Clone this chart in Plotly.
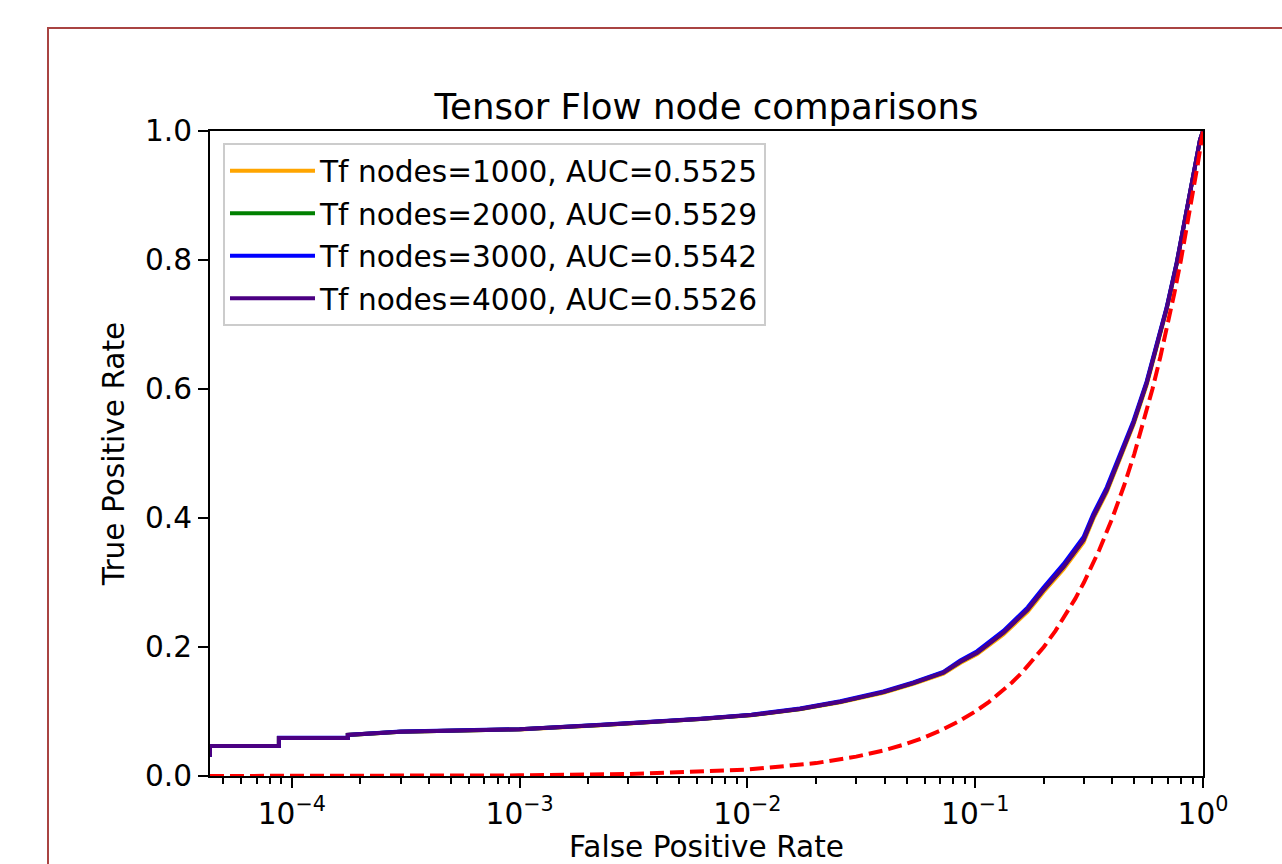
import plotly.graph_objects as go

# ---------------- data ----------------
fpr = [4.37e-5, 4.37e-5, 8.77e-5, 8.77e-5, 1.76e-4, 1.76e-4, 3.0e-4, 1.0e-3,
       2.27e-3, 4.0e-3, 6.2e-3, 1.04e-2, 1.7e-2, 2.56e-2, 3.95e-2, 5.35e-2,
       7.25e-2, 8.6e-2, 0.102, 0.133, 0.170, 0.199, 0.244, 0.299, 0.330,
       0.378, 0.433, 0.495, 0.566, 0.627, 0.693, 0.767, 0.834, 0.907, 0.970, 1.0]

tpr_1000 = [0.030, 0.0465, 0.0465, 0.059, 0.059, 0.0636, 0.0686, 0.0722,
            0.0788, 0.0838, 0.0882, 0.0942, 0.1034, 0.1142, 0.1290, 0.1428,
            0.1585, 0.1752, 0.1892, 0.2195, 0.2550, 0.2850, 0.3205, 0.3625,
            0.3990, 0.4400, 0.4920, 0.5445, 0.6065, 0.6660, 0.7235, 0.7940,
            0.8612, 0.9335, 0.9858, 1.0]
tpr_2000 = [0.030, 0.0465, 0.0465, 0.059, 0.059, 0.0636, 0.0687, 0.0723,
            0.0789, 0.0839, 0.0883, 0.0945, 0.1040, 0.1152, 0.1300, 0.1442,
            0.1605, 0.1772, 0.1912, 0.2225, 0.2585, 0.2885, 0.3245, 0.3665,
            0.4025, 0.4435, 0.4955, 0.5475, 0.6095, 0.6685, 0.7255, 0.7955,
            0.8625, 0.9342, 0.9861, 1.0]
tpr_3000 = [0.030, 0.0466, 0.0466, 0.0592, 0.0592, 0.0638, 0.0689, 0.0726,
            0.0793, 0.0843, 0.0887, 0.0950, 0.1046, 0.1158, 0.1310, 0.1452,
            0.1615, 0.1790, 0.1935, 0.2250, 0.2615, 0.2920, 0.3285, 0.3705,
            0.4065, 0.4475, 0.4990, 0.5505, 0.6120, 0.6705, 0.7270, 0.7965,
            0.8632, 0.9348, 0.9864, 1.0]
tpr_4000 = [0.030, 0.0465, 0.0465, 0.059, 0.059, 0.0636, 0.0687, 0.0724,
            0.0790, 0.0840, 0.0884, 0.0946, 0.1040, 0.1150, 0.1300, 0.1440,
            0.1600, 0.1770, 0.1910, 0.2220, 0.2580, 0.2880, 0.3240, 0.3660,
            0.4020, 0.4430, 0.4950, 0.5470, 0.6090, 0.6680, 0.7250, 0.7950,
            0.8620, 0.9340, 0.9860, 1.0]

series_names = ["Tf nodes=1000, AUC=0.5525", "Tf nodes=2000, AUC=0.5529",
                "Tf nodes=3000, AUC=0.5542", "Tf nodes=4000, AUC=0.5526"]
series_colors = ["#FFA500", "#008000", "#0000FF", "#4B0082"]

chance_fpr = [4.37e-5, 1e-4, 3e-4, 1e-3, 3e-3, 0.01, 0.02, 0.03, 0.04, 0.05,
              0.06, 0.07, 0.085, 0.1, 0.115, 0.13, 0.145, 0.16, 0.18, 0.2,
              0.225, 0.25, 0.275, 0.3, 0.35, 0.4, 0.45, 0.5, 0.55, 0.6, 0.65,
              0.7, 0.75, 0.8, 0.85, 0.9, 0.95, 1.0]
chance_tpr = [4.37e-5, 1e-4, 3e-4, 1e-3, 3e-3, 0.01, 0.02, 0.03, 0.04, 0.05,
              0.06, 0.07, 0.085, 0.1, 0.115, 0.13, 0.145, 0.16, 0.18, 0.2,
              0.225, 0.25, 0.275, 0.3, 0.35, 0.4, 0.45, 0.5, 0.55, 0.6, 0.65,
              0.7, 0.75, 0.8, 0.85, 0.9, 0.95, 1.0]

x_tickvals = [1e-4, 1e-3, 1e-2, 1e-1, 1.0]
x_ticktext = ["10<sup>\u22124</sup>", "10<sup>\u22123</sup>", "10<sup>\u22122</sup>",
              "10<sup>\u22121</sup>", "10<sup>0</sup>"]
y_tickvals = [0.0, 0.2, 0.4, 0.6, 0.8, 1.0]

# ---------------- figure ----------------
FONT = "DejaVu Sans"
FS = 29.6
W, H = 1282, 864
L, R, T, B = 210, 1203, 131, 776
pw, ph = R - L, B - T

fig = go.Figure()
for i, tpr in enumerate([tpr_1000, tpr_2000, tpr_3000, tpr_4000]):
    fig.add_trace(go.Scatter(
        x=fpr, y=tpr, mode="lines", name=series_names[i],
        line=dict(color=series_colors[i], width=4),
        legendgroup=f"g{i}",
    ))
fig.add_trace(go.Scatter(
    x=chance_fpr, y=chance_tpr, mode="lines", showlegend=False,
    line=dict(color="#FF0000", width=4, dash="14px,6px"),
))

def px_x(p):
    return (p - L) / pw

def px_y(p):
    return (B - p) / ph

fig.update_layout(
    width=W, height=H,
    margin=dict(l=L, r=W - R, t=T, b=H - B, autoexpand=False),
    paper_bgcolor="white", plot_bgcolor="white",
    font=dict(family=FONT, size=FS, color="black"),
    title=dict(text="Tensor Flow node comparisons", x=0.5, xanchor="center",
               xref="paper", y=1, yref="paper", yanchor="bottom",
               pad=dict(b=12), font=dict(size=35.5, family=FONT, color="black")),
    showlegend=True,
    legend=dict(x=px_x(223), y=px_y(143), xanchor="left", yanchor="top",
                bgcolor="rgba(255,255,255,0.85)", bordercolor="#cccccc",
                borderwidth=2, font=dict(size=FS, family=FONT, color="black"),
                tracegroupgap=1, itemwidth=85),
    shapes=[dict(type="rect", xref="paper", yref="paper",
                 x0=px_x(48), y0=px_y(880), x1=px_x(1300), y1=px_y(28),
                 line=dict(color="#a94442", width=2), fillcolor="rgba(0,0,0,0)",
                 layer="below")],
)

fig.update_xaxes(
    type="log", range=[-4.3595, 0.0],
    showline=True, linecolor="black", linewidth=2, mirror=True,
    showgrid=False, zeroline=False,
    ticks="outside", ticklen=10, tickwidth=2, tickcolor="black",
    tickvals=x_tickvals, ticktext=x_ticktext,
    tickfont=dict(size=FS, family=FONT, color="black"),
    minor=dict(ticks="outside", ticklen=6, tickwidth=1.5, tickcolor="black",
               dtick="D1", showgrid=False),
    title=dict(text="False Positive Rate", standoff=27,
               font=dict(size=FS, family=FONT, color="black")),
    automargin=False,
)
fig.update_yaxes(
    range=[0, 1], showline=True, linecolor="black", linewidth=2, mirror=True,
    showgrid=False, zeroline=False,
    ticks="outside", ticklen=10, tickwidth=2, tickcolor="black",
    tickvals=y_tickvals, tickformat=".1f",
    tickfont=dict(size=FS, family=FONT, color="black"),
    title=dict(text="True Positive Rate", standoff=12,
               font=dict(size=FS, family=FONT, color="black")),
    automargin=False,
)

fig.write_html("out.html")
